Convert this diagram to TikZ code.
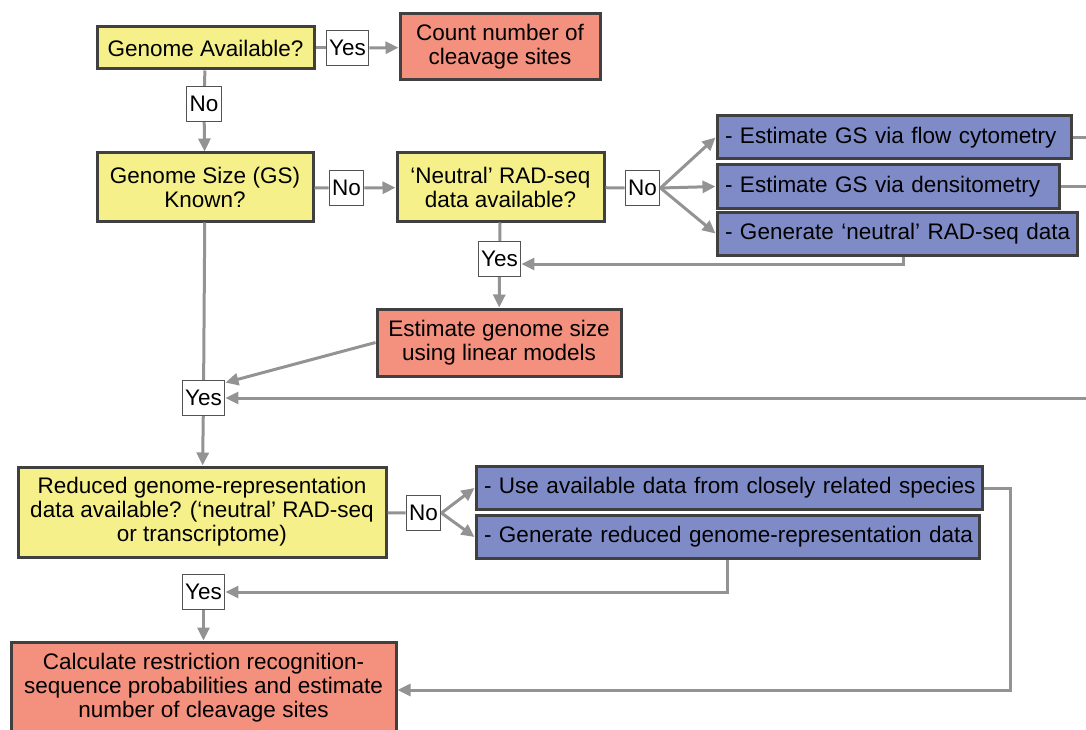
\documentclass[tikz,border=0pt]{standalone}
\usepackage{fontspec}
\setmainfont{Liberation Sans}
\usetikzlibrary{arrows.meta}
\definecolor{queryfill}{HTML}{F5F08A}
\definecolor{outfill}{HTML}{F4907E}
\definecolor{optfill}{HTML}{7F8BC7}
\definecolor{boxline}{HTML}{404040}
\definecolor{connline}{HTML}{939393}
\newcommand{\boxfont}{\fontsize{22.5}{24}\selectfont}
% one unbroken line per option box
\newcommand{\optline}[1]{\mbox{- #1}}

\begin{document}
\begin{tikzpicture}[x=1pt, y=-1pt,
    question/.style={draw=boxline, line width=3pt, fill=queryfill, align=center, inner sep=2pt, font=\boxfont},
    outcome/.style={draw=boxline, line width=3pt, fill=outfill, align=center, inner sep=2pt, font=\boxfont},
    option/.style={draw=boxline, line width=3pt, fill=optfill, align=left, inner xsep=8pt, minimum height=43, font=\boxfont},
    answer/.style={draw=boxline!90, line width=1.2pt, fill=white, inner sep=3pt, minimum height=35, font=\boxfont},
    conn/.style={draw=connline, line width=3pt},
    arr/.style={conn, -{Triangle[length=13pt, width=12pt]}}]
    \useasboundingbox (0,0) rectangle (1086,730);

    % Questions
    \node[question, minimum width=217, minimum height=42] (avail) at (205.5,48) {Genome Available?};
    \node[question, minimum width=216, minimum height=68] (gsknown) at (205,187) {Genome Size (GS)\\Known?};
    \node[question, minimum width=207, minimum height=68] (neutral) at (500.5,187) {‘Neutral’ RAD-seq\\data available?};
    \node[question, minimum width=368, minimum height=90] (reduced) at (202,512) {Reduced genome-representation\\data available? (‘neutral’ RAD-seq\\or transcriptome)};

    % Outcomes
    \node[outcome, minimum width=200, minimum height=66] (count) at (500,47) {Count number of\\cleavage sites};
    \node[outcome, minimum width=244, minimum height=67] (linear) at (499,342.5) {Estimate genome size\\using linear models};
    \node[outcome, minimum width=385, minimum height=92] (calc) at (203.5,688) {Calculate restriction recognition-\\sequence probabilities and estimate\\number of cleavage sites};

    % Options
    \node[option, text width=338] (flowcyt) at (894,137.5) {\optline{Estimate GS via flow cytometry}};
    \node[option, text width=326] (densito) at (888,186.5) {\optline{Estimate GS via densitometry}};
    \node[option, text width=344] (genneutral) at (897,233.5) {\optline{Generate ‘neutral’ RAD-seq data}};
    \node[option, text width=490] (related) at (729,488) {\optline{Use available data from closely related species}};
    \node[option, text width=487] (genreduced) at (727.5,537) {\optline{Generate reduced genome-representation data}};

    % Answers
    \node[answer] (yes0) at (347.5,48) {Yes};
    \node[answer] (no0) at (204,104) {No};
    \node[answer] (no1) at (346.5,188) {No};
    \node[answer] (no2) at (642.5,188) {No};
    \node[answer] (yes1) at (499.5,259) {Yes};
    \node[answer] (yes2) at (203.5,398) {Yes};
    \node[answer] (no3) at (423.5,513) {No};
    \node[answer] (yes3) at (203.5,592) {Yes};

    % Loose ends running off to the right
    \coordinate (flowout) at (1095,137.5);
    \coordinate (densout) at (1095,186.5);
    \coordinate (yesin) at (1095,398);

    % Connectors
    \draw[conn] (avail) -- (yes0);
    \draw[arr] (yes0) -- (count);
    \draw[conn] (avail) -- (no0);
    \draw[arr] (no0) -- (gsknown);
    \draw[conn] (gsknown) -- (no1);
    \draw[arr] (no1) -- (neutral);
    \draw[conn] (neutral) -- (no2);
    \draw[arr] (no2.east) -- (flowcyt.west);
    \draw[arr] (no2.east) -- (densito.west);
    \draw[arr] (no2.east) -- (genneutral.west);
    \draw[conn] (flowcyt) -- (flowout);
    \draw[conn] (densito) -- (densout);
    \draw[arr] ([xshift=6pt]genneutral.south) |- ([yshift=-5pt]yes1.east);
    \draw[conn] (neutral) -- (yes1);
    \draw[arr] (yes1) -- (linear);
    \draw[conn] (gsknown) -- (yes2);
    \draw[arr] (linear.west) -- (yes2.35);
    \draw[arr] (yesin) -- (yes2);
    \draw[arr] (yes2) -- (reduced);
    \draw[conn] (reduced) -- (no3);
    \draw[arr] (no3.east) -- (related.west);
    \draw[arr] (no3.east) -- (genreduced.west);
    \draw[arr] (related.east) -- ++(27,0) |- ([yshift=-2pt]calc.east);
    \draw[arr] (genreduced.south) |- (yes3.east);
    \draw[arr] (yes3) -- (calc);
\end{tikzpicture}
\end{document}
